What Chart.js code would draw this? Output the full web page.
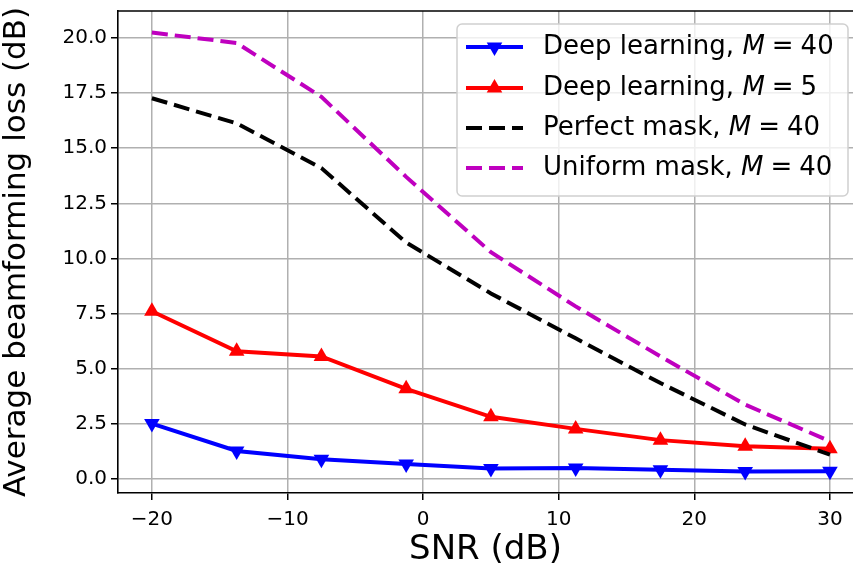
<!DOCTYPE html>
<html>
<head>
<meta charset="utf-8">
<script src="https://cdn.jsdelivr.net/npm/chart.js@4"></script>
<style>
  body { margin: 0; background: #fff; }
  #chart { display: block; }
</style>
</head>
<body>
<canvas id="chart" width="853" height="573"></canvas>
<script>
// SNR values on the x axis (dB)
const snr = [-20, -13.75, -7.5, -1.25, 5, 11.25, 17.5, 23.75, 30];

// average beamforming loss (dB)
const deepLearning40 = [2.50, 1.26, 0.88, 0.67, 0.46, 0.48, 0.41, 0.33, 0.34];
const deepLearning5 = [7.60, 5.78, 5.55, 4.08, 2.81, 2.26, 1.75, 1.47, 1.36];
const perfectMask40 = [17.27, 16.13, 14.10, 10.72, 8.41, 6.37, 4.34, 2.46, 1.09];
const uniformMask40 = [20.25, 19.78, 17.33, 13.70, 10.28, 7.82, 5.55, 3.36, 1.70];

const seriesNames = ['Deep learning, ', 'Deep learning, ', 'Perfect mask, ', 'Uniform mask, '];
const seriesM = ['40', '5', '40', '40'];
const xTicks = [-20, -10, 0, 10, 20, 30];
const yTicks = [0, 2.5, 5, 7.5, 10, 12.5, 15, 17.5, 20];

const ctx = document.getElementById('chart').getContext('2d');

function toPoints(values) {
  return values.map((v, i) => ({ x: snr[i], y: v }));
}

const FONT = "'DejaVu Sans', sans-serif";

// top spine + matplotlib style legend
const framePlugin = {
  id: 'frame',
  afterDatasetsDraw(chart) {
    const c = chart.ctx;
    const area = chart.chartArea;
    c.save();
    c.strokeStyle = '#000';
    c.lineWidth = 1.6;
    c.beginPath();
    c.moveTo(area.left, area.top);
    c.lineTo(area.right, area.top);
    c.stroke();
    c.restore();
  },
  afterDraw(chart) {
    const c = chart.ctx;
    const bx = 457, by = 24, bw = 391, bh = 172, r = 5;
    c.save();
    c.fillStyle = 'rgba(255,255,255,0.8)';
    c.strokeStyle = '#d0d0d0';
    c.lineWidth = 1.5;
    c.beginPath();
    c.roundRect(bx, by, bw, bh, r);
    c.fill();
    c.stroke();

    const rows = [47, 88, 128, 168];
    chart.data.datasets.forEach((ds, i) => {
      const y = rows[i];
      c.strokeStyle = ds.borderColor;
      c.lineWidth = ds.borderWidth;
      c.setLineDash(ds.borderDash || []);
      c.beginPath();
      c.moveTo(466, y);
      c.lineTo(523, y);
      c.stroke();
      c.setLineDash([]);
      if (ds.pointStyle === 'triangle') {
        const rad0 = (ds.pointRotation || 0) * Math.PI / 180;
        const rr = 9;
        c.fillStyle = ds.borderColor;
        c.beginPath();
        for (let k = 0; k < 3; k++) {
          const a = rad0 + k * 2 * Math.PI / 3;
          const px = 494.5 + Math.sin(a) * rr;
          const py = y - Math.cos(a) * rr;
          if (k === 0) c.moveTo(px, py); else c.lineTo(px, py);
        }
        c.closePath();
        c.fill();
      }
      c.fillStyle = '#000';
      c.textBaseline = 'middle';
      c.textAlign = 'left';
      let tx = 543;
      c.font = '26px ' + FONT;
      c.fillText(seriesNames[i], tx, y);
      tx += c.measureText(seriesNames[i]).width;
      c.font = 'italic 26px ' + FONT;
      c.fillText('M', tx, y);
      tx += c.measureText('M').width + 7;
      c.font = '26px ' + FONT;
      c.fillText('=', tx, y);
      tx += c.measureText('=').width + 7;
      c.fillText(seriesM[i], tx, y);
    });
    c.restore();
  }
};

const lossChart = new Chart(ctx, {
  type: 'line',
  data: {
    datasets: [
      {
        label: 'Deep learning, M = 40',
        data: toPoints(deepLearning40),
        borderColor: '#0000ff',
        backgroundColor: '#0000ff',
        borderWidth: 4,
        pointStyle: 'triangle',
        pointRotation: 180,
        pointRadius: 9,
        pointBorderWidth: 0,
        order: 4
      },
      {
        label: 'Deep learning, M = 5',
        data: toPoints(deepLearning5),
        borderColor: '#ff0000',
        backgroundColor: '#ff0000',
        borderWidth: 4,
        pointStyle: 'triangle',
        pointRadius: 9,
        pointBorderWidth: 0,
        order: 3
      },
      {
        label: 'Perfect mask, M = 40',
        data: toPoints(perfectMask40),
        borderColor: '#000000',
        borderWidth: 4,
        borderDash: [16, 7],
        pointRadius: 0,
        order: 2
      },
      {
        label: 'Uniform mask, M = 40',
        data: toPoints(uniformMask40),
        borderColor: '#bf00bf',
        borderWidth: 4,
        borderDash: [16, 7],
        pointRadius: 0,
        order: 1
      }
    ]
  },
  options: {
    responsive: false,
    animation: false,
    devicePixelRatio: 1,
    layout: { autoPadding: false, padding: { top: 11, right: 0, left: 0, bottom: 0 } },
    plugins: {
      legend: { display: false },
      tooltip: { enabled: false }
    },
    scales: {
      x: {
        type: 'linear',
        min: -22.5,
        max: 31.7,
        afterBuildTicks(scale) {
          scale.ticks = xTicks.map(v => ({ value: v }));
        },
        afterFit(scale) {
          scale.height = 80;
          scale.paddingLeft = 0;
          scale.paddingRight = 0;
        },
        grid: { color: '#b0b0b0', lineWidth: 1.5, tickColor: '#000', tickLength: 7, tickWidth: 1.5 },
        border: { color: '#000', width: 1.6 },
        ticks: {
          color: '#000',
          padding: 8,
          font: { family: FONT, size: 20 },
          callback: v => (v < 0 ? '\u2212' + Math.abs(v) : String(v))
        },
        title: {
          display: true,
          text: 'SNR (dB)',
          color: '#000',
          font: { family: FONT, size: 34, lineHeight: 1 },
          padding: { top: 0, bottom: 6 }
        }
      },
      y: {
        type: 'linear',
        min: -0.65,
        max: 21.23,
        afterBuildTicks(scale) {
          scale.ticks = yTicks.map(v => ({ value: v }));
        },
        afterFit(scale) {
          scale.width = 118;
          scale.paddingTop = 0;
          scale.paddingBottom = 0;
        },
        grid: { color: '#b0b0b0', lineWidth: 1.5, tickColor: '#000', tickLength: 7, tickWidth: 1.5 },
        border: { color: '#000', width: 1.6 },
        ticks: {
          color: '#000',
          padding: 4,
          font: { family: FONT, size: 20 },
          callback: v => v.toFixed(1)
        },
        title: {
          display: true,
          text: 'Average beamforming loss (dB)',
          color: '#000',
          font: { family: FONT, size: 31, lineHeight: 1 },
          padding: { top: 1, bottom: 0 }
        }
      }
    }
  },
  plugins: [framePlugin]
});
</script>
</body>
</html>
